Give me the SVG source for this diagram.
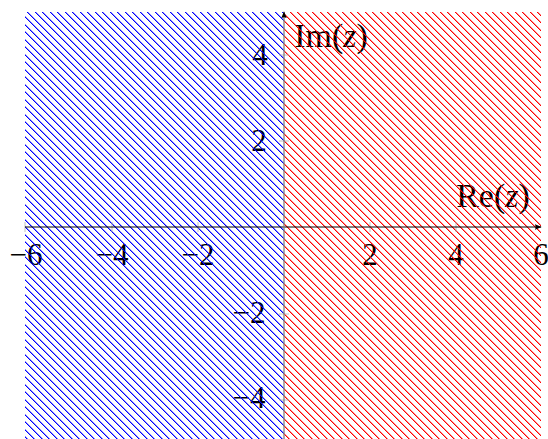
<svg xmlns="http://www.w3.org/2000/svg" width="548" height="439" viewBox="0 0 548 439">
  <style>
    .lbl { font-family: "Liberation Serif", "DejaVu Serif", serif; font-size: 31px; fill: #000; text-anchor: middle; }
    .ax { font-size: 34px; }
    .it { font-style: italic; }
    .tick { stroke: #b0b0b0; stroke-width: 0.8; }
    .hp { shape-rendering: crispEdges; }
    .soft { fill-opacity: 0.45; }
  </style>
  <defs>
    <path id="stairs" class="hp" d="M0 0h1v1h-1zM1 1h1v1h-1zM2 2h1v1h-1zM3 3h1v1h-1zM4 4h1v1h-1zM5 5h1v1h-1zM6 6h1v1h-1zM7 7h1v1h-1zM8 8h1v1h-1zM9 9h1v1h-1zM10 10h1v1h-1zM11 11h1v1h-1zM12 12h1v1h-1zM13 13h1v1h-1zM14 14h1v1h-1zM0 7h1v1h-1zM1 8h1v1h-1zM2 9h1v1h-1zM3 10h1v1h-1zM4 11h1v1h-1zM5 12h1v1h-1zM6 13h1v1h-1zM7 14h1v1h-1zM8 0h1v1h-1zM9 1h1v1h-1zM10 2h1v1h-1zM11 3h1v1h-1zM12 4h1v1h-1zM13 5h1v1h-1zM14 6h1v1h-1z"/>
    <pattern id="hatchBlue" patternUnits="userSpaceOnUse" x="0" y="0" width="15" height="15">
      <g fill="#0000ff">
        <use href="#stairs"/>
        <use href="#stairs" x="1" class="soft"/>
        <use href="#stairs" x="-14" class="soft"/>
      </g>
    </pattern>
    <pattern id="hatchRed" patternUnits="userSpaceOnUse" x="0" y="0" width="15" height="15">
      <g fill="#ff0000">
        <use href="#stairs"/>
        <use href="#stairs" x="1" class="soft"/>
        <use href="#stairs" x="-14" class="soft"/>
      </g>
    </pattern>
    <marker id="arrow" viewBox="0 0 10 10" refX="9" refY="5" markerWidth="7" markerHeight="7" markerUnits="userSpaceOnUse" orient="auto">
      <path d="M0,1 L10,5 L0,9 Q3,5 0,1 Z" fill="#000"/>
    </marker>
  </defs>
  <rect width="548" height="439" fill="#fff"/>

  <g id="labels">
    <text class="lbl" x="26" y="265">−6</text>
    <text class="lbl" x="112" y="265">−4</text>
    <text class="lbl" x="198" y="265">−2</text>
    <text class="lbl" x="370" y="265">2</text>
    <text class="lbl" x="456" y="265">4</text>
    <text class="lbl" x="541" y="265">6</text>
    <text class="lbl" x="260" y="65">4</text>
    <text class="lbl" x="259" y="151">2</text>
    <text class="lbl" x="249" y="323">−2</text>
    <text class="lbl" x="249" y="408">−4</text>
    <text class="lbl ax" x="331" y="47">Im(<tspan class="it">z</tspan>)</text>
    <text class="lbl ax" x="493" y="207">Re(<tspan class="it">z</tspan>)</text>
  </g>

  <g id="region-left">
    <rect x="25" y="12" width="259" height="427" fill="url(#hatchBlue)"/>
  </g>
  <g id="region-right">
    <rect x="284" y="12" width="257" height="427" fill="url(#hatchRed)"/>
  </g>

  <g id="connectors">
    <line class="tick" x1="25" y1="222" x2="25" y2="232"/>
    <line class="tick" x1="112" y1="222" x2="112" y2="232"/>
    <line class="tick" x1="198" y1="222" x2="198" y2="232"/>
    <line class="tick" x1="370" y1="222" x2="370" y2="232"/>
    <line class="tick" x1="456" y1="222" x2="456" y2="232"/>
    <line class="tick" x1="279" y1="55" x2="289" y2="55"/>
    <line class="tick" x1="279" y1="141" x2="289" y2="141"/>
    <line class="tick" x1="279" y1="314" x2="289" y2="314"/>
    <line class="tick" x1="279" y1="400" x2="289" y2="400"/>
    <line x1="25" y1="227" x2="541" y2="227" stroke="#000" stroke-width="1" marker-end="url(#arrow)"/>
    <line x1="284" y1="439" x2="284" y2="12" stroke="#808080" stroke-width="1.3" marker-end="url(#arrow)"/>
  </g>
</svg>
